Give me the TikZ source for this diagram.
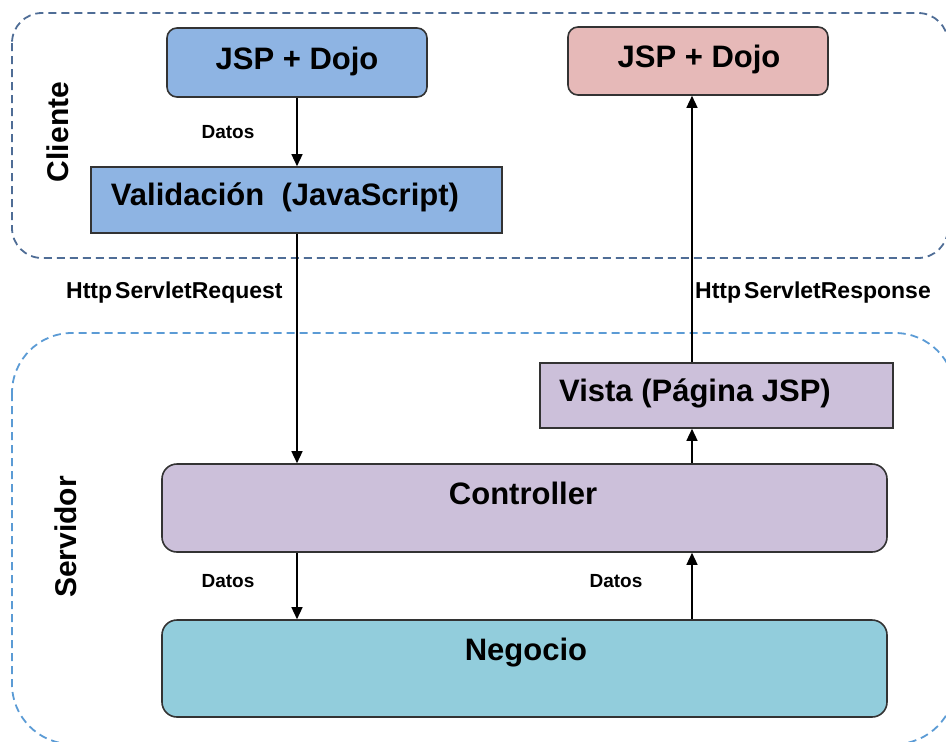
\documentclass[tikz,border=0pt]{standalone}
\usepackage{fontspec}
\setmainfont{Liberation Sans}
\usetikzlibrary{arrows.meta}

\definecolor{clientline}{HTML}{4F6D96}
\definecolor{serverline}{HTML}{5B9BD5}
\definecolor{boxline}{HTML}{333333}
\definecolor{jspblue}{HTML}{8EB4E3}
\definecolor{jsppink}{HTML}{E6B9B8}
\definecolor{lilac}{HTML}{CCC0DA}
\definecolor{teal}{HTML}{92CDDC}

\begin{document}
\begin{tikzpicture}[x=1pt,y=-1pt,
  zone/.style={dashed, line width=1.8pt, dash pattern=on 8pt off 5pt},
  box/.style={draw=boxline, line width=1.6pt, inner sep=0pt, rectangle},
  roundbox/.style={box, rounded corners=#1},
  boxtext/.style={anchor=base, inner sep=0pt, font=\fontsize{31}{36}\selectfont\bfseries},
  zonetext/.style={rotate=90, inner sep=0pt, font=\fontsize{30}{36}\selectfont\bfseries},
  small/.style={inner sep=0pt, font=\fontsize{19}{22}\selectfont\bfseries},
  wire/.style={line width=1.4pt, -{Triangle[length=12pt,width=11pt]}}
]
\useasboundingbox (0,0) rectangle (946,742);

% client and server zones (cut at the picture edges)
\begin{scope}
  \clip (0,0) rectangle (946,742);
  \draw[zone, draw=clientline, rounded corners=30pt] (12,13) rectangle (948,258);
  \draw[zone, draw=serverline, rounded corners=60pt] (12,333) rectangle (955,744);
\end{scope}

\node[zonetext] (cliente) at (58,132) {Cliente};
\node[zonetext] (servidor) at (66,537) {Servidor};

% boxes
\node[roundbox=10pt, fill=jspblue, minimum width=260pt, minimum height=69pt] (jspA) at (297,62.5) {};
\node[roundbox=10pt, fill=jsppink, minimum width=260pt, minimum height=68pt] (jspB) at (698,61) {};
\node[box, fill=jspblue, minimum width=411pt, minimum height=66pt] (valid) at (296.5,200) {};
\node[box, fill=lilac, minimum width=353pt, minimum height=65pt] (vista) at (716.5,395.5) {};
\node[roundbox=15pt, fill=lilac, minimum width=725pt, minimum height=88pt] (ctrl) at (524.5,508) {};
\node[roundbox=15pt, fill=teal, minimum width=725pt, minimum height=97pt] (neg) at (524.5,668.5) {};

% box captions
\node[boxtext] (jspAt) at (297,69) {JSP + Dojo};
\node[boxtext] (jspBt) at (699,67) {JSP + Dojo};
\node[boxtext] (validt) at (285,205) {Validación~~(JavaScript)};
\node[boxtext] (vistat) at (695,401) {Vista (Página JSP)};
\node[boxtext] (ctrlt) at (523,504) {Controller};
\node[boxtext] (negt) at (526,660) {Negocio};

% connector columns
\coordinate (lc) at (297,0);
\coordinate (rc) at (692,0);

% connectors
\draw[wire] (jspA.south -| lc) -- (valid.north -| lc);
\draw[wire] (valid.south -| lc) -- (ctrl.north -| lc);
\draw[wire] (ctrl.south -| lc) -- (neg.north -| lc);
\draw[wire] (neg.north -| rc) -- (ctrl.south -| rc);
\draw[wire] (ctrl.north -| rc) -- (vista.south -| rc);
\draw[wire] (vista.north -| rc) -- (jspB.south -| rc);

% connector labels
\node[small] (datos1) at (228,132) {Datos};
\node[small] (datos2) at (228,581) {Datos};
\node[small] (datos3) at (616,581) {Datos};
\node[small, anchor=base west, font=\fontsize{23}{26}\selectfont\bfseries] (req) at (66,298) {Http\kern3pt ServletRequest};
\node[small, anchor=base west, font=\fontsize{23}{26}\selectfont\bfseries] (resp) at (695,298) {Http\kern3pt ServletResponse};
\end{tikzpicture}
\end{document}
